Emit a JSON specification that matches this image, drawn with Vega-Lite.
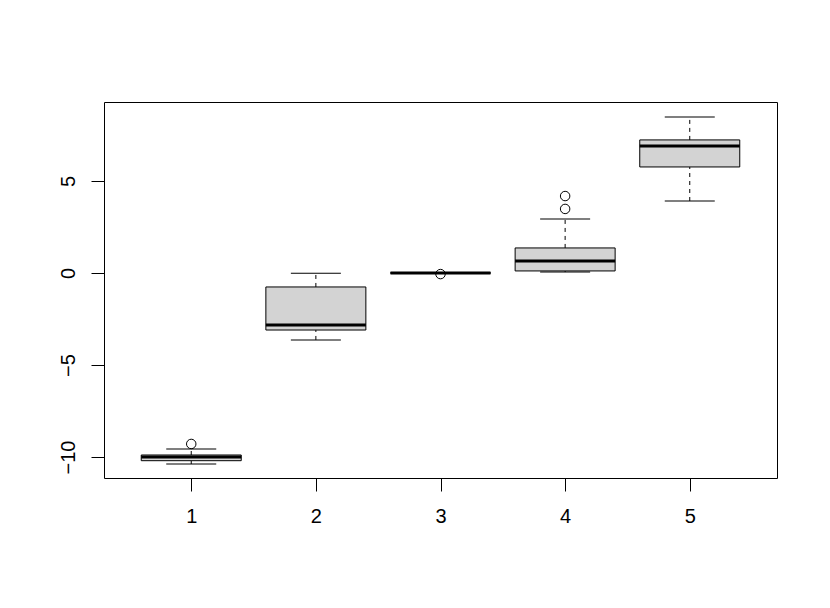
{
  "$schema": "https://vega.github.io/schema/vega-lite/v6.json",
  "width": 673,
  "height": 376,
  "autosize": {"type": "none"},
  "padding": {"left": 104, "top": 102, "right": 53, "bottom": 130},
  "background": "white",
  "config": {
    "view": {"stroke": "black", "strokeWidth": 1},
    "axis": {
      "domain": false,
      "grid": false,
      "ticks": true,
      "tickColor": "black",
      "tickSize": 13,
      "tickWidth": 1,
      "labelColor": "black",
      "labelFont": "Liberation Sans",
      "labelFontSize": 20,
      "title": null
    }
  },
  "datasets": {
    "boxes": [
      {"group": 1, "lo": -10.38, "q1": -10.2, "med": -10.0, "q3": -9.89, "hi": -9.57},
      {"group": 2, "lo": -3.64, "q1": -3.1, "med": -2.83, "q3": -0.76, "hi": -0.02},
      {"group": 3, "lo": -0.03, "q1": -0.01, "med": 0.0, "q3": 0.01, "hi": 0.02},
      {"group": 4, "lo": 0.05, "q1": 0.11, "med": 0.65, "q3": 1.36, "hi": 2.93},
      {"group": 5, "lo": 3.91, "q1": 5.76, "med": 6.9, "q3": 7.23, "hi": 8.48}
    ],
    "outliers": [
      {"group": 1, "value": -9.29},
      {"group": 3, "value": -0.06},
      {"group": 4, "value": 3.48},
      {"group": 4, "value": 4.18}
    ]
  },
  "layer": [
    {
      "data": {"name": "boxes"},
      "mark": {"type": "rule", "color": "black", "strokeWidth": 1, "strokeDash": [4, 4], "opacity": 1},
      "encoding": {
        "x": {"field": "group", "type": "quantitative", "scale": {"domain": [0.3, 5.7], "nice": false, "zero": false, "padding": 0}, "axis": {"values": [1, 2, 3, 4, 5], "format": "d", "labelPadding": 15, "labelAngle": 0}},
        "y": {"field": "lo", "type": "quantitative", "scale": {"domain": [-11.14, 9.29], "nice": false, "zero": false, "padding": 0}, "axis": {"values": [-10, -5, 0, 5], "format": "d", "labelAngle": -90, "labelAlign": "center", "labelBaseline": "bottom", "labelPadding": 13}},
        "y2": {"field": "q1"}
      }
    },
    {
      "data": {"name": "boxes"},
      "mark": {"type": "rule", "color": "black", "strokeWidth": 1, "strokeDash": [4, 4], "opacity": 1},
      "encoding": {
        "x": {"field": "group", "type": "quantitative"},
        "y": {"field": "q3", "type": "quantitative"},
        "y2": {"field": "hi"}
      }
    },
    {
      "data": {"name": "boxes"},
      "mark": {"type": "tick", "color": "black", "thickness": 1, "size": 50, "orient": "horizontal", "opacity": 1},
      "encoding": {
        "x": {"field": "group", "type": "quantitative"},
        "y": {"field": "lo", "type": "quantitative"}
      }
    },
    {
      "data": {"name": "boxes"},
      "mark": {"type": "tick", "color": "black", "thickness": 1, "size": 50, "orient": "horizontal", "opacity": 1},
      "encoding": {
        "x": {"field": "group", "type": "quantitative"},
        "y": {"field": "hi", "type": "quantitative"}
      }
    },
    {
      "data": {"name": "boxes"},
      "mark": {"type": "bar", "fill": "#d3d3d3", "stroke": "black", "strokeWidth": 1, "size": 100, "orient": "vertical", "opacity": 1},
      "encoding": {
        "x": {"field": "group", "type": "quantitative"},
        "y": {"field": "q1", "type": "quantitative"},
        "y2": {"field": "q3"}
      }
    },
    {
      "data": {"name": "boxes"},
      "mark": {"type": "tick", "color": "black", "thickness": 3, "size": 100, "orient": "horizontal", "opacity": 1},
      "encoding": {
        "x": {"field": "group", "type": "quantitative"},
        "y": {"field": "med", "type": "quantitative"}
      }
    },
    {
      "data": {"name": "outliers"},
      "mark": {"type": "point", "shape": "circle", "filled": false, "stroke": "black", "strokeWidth": 1, "size": 90, "opacity": 1},
      "encoding": {
        "x": {"field": "group", "type": "quantitative"},
        "y": {"field": "value", "type": "quantitative"}
      }
    }
  ]
}
